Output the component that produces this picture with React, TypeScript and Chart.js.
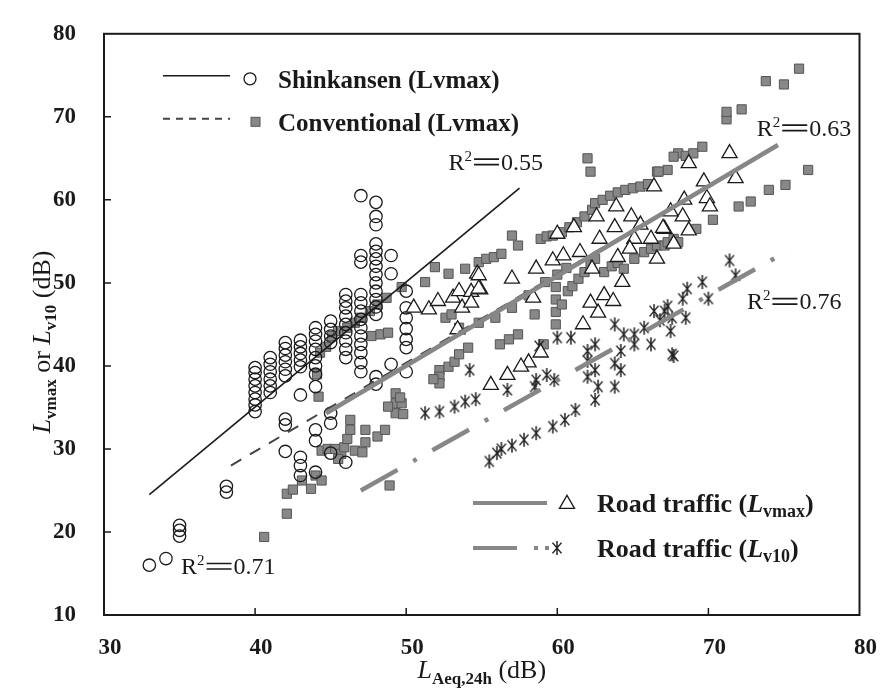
import React, { useEffect, useRef } from 'react';
import { Chart, registerables } from 'chart.js';
Chart.register(...registerables);

const X_MIN = 30, X_MAX = 80, Y_MIN = 10, Y_MAX = 80;
const xTickValues = [30, 40, 50, 60, 70, 80];
const yTickValues = [10, 20, 30, 40, 50, 60, 70, 80];

const shinkansenPoints: [number, number][] = [
  [33, 16], [34.1, 16.8],
  [35, 19.5], [35, 20.2], [35, 20.8],
  [38.1, 24.8], [38.1, 25.5],
  [40, 34.5], [40, 35.3], [40, 36], [40, 36.8], [40, 37.6], [40, 38.4], [40, 39.2], [40, 39.8],
  [41, 36.8], [41, 37.6], [41, 38.4], [41, 39.3], [41, 40.2], [41, 41],
  [42, 38.8], [42, 39.6], [42, 40.5], [42, 41.3], [42, 42.1], [42, 42.8], [42, 33.6], [42, 32.9], [42, 29.7],
  [43, 39.9], [43, 40.7], [43, 41.5], [43, 42.3], [43, 43.1], [43, 36.5], [43, 29], [43, 28], [43, 26.8],
  [44, 37.5], [44, 39], [44, 40], [44, 41], [44, 42], [44, 43], [44, 43.8], [44, 44.6], [44, 32.3], [44, 31], [44, 27.2],
  [45, 42.8], [45, 43.6], [45, 44.4], [45, 45.4], [45, 34.3], [45, 33.1], [45, 29.5],
  [46, 41], [46, 42], [46, 43], [46, 44], [46, 45], [46, 46], [46, 47], [46, 47.8], [46, 48.6], [46, 28.4],
  [47, 60.5], [47, 53.3], [47, 52.5], [47, 48.6], [47, 47.6], [47, 46.6], [47, 45.6], [47, 44.6], [47, 43.6], [47, 42.6], [47, 41.6], [47, 40.4], [47, 39.3],
  [48, 59.7], [48, 58], [48, 57], [48, 54.7], [48, 53.8], [48, 52.9], [48, 52], [48, 51], [48, 50], [48, 49], [48, 48], [48, 47.1], [48, 46.2], [48, 38.7], [48, 37.8],
  [49, 53.3], [49, 51.1], [49, 40.2],
  [50, 49], [50, 47], [50, 45.8], [50, 44.5], [50, 43.2], [50, 42.2], [50, 39.3],
];

const conventionalPoints: [number, number][] = [
  [40.6, 19.4], [42.1, 22.2], [42.1, 24.6], [42.5, 25.1], [43.1, 26.2], [43.7, 25.2], [44, 26.8], [44.4, 26.2],
  [44.2, 36.3], [44.1, 39], [44.3, 41.6], [44.7, 42.3],
  [44.4, 29.8], [44.8, 30], [45.3, 30], [45.7, 29.4], [45.9, 30.2], [46.1, 31.2], [46.3, 32.3], [46.3, 33.5], [45.5, 28.8],
  [46.6, 29.8], [47.1, 29.6], [47.3, 30.8], [47.3, 32.3], [48.1, 31.5], [48.6, 32.3], [48.9, 25.6],
  [45.1, 43.6], [45.5, 44.2], [46.1, 44.6], [46.6, 45.2], [47, 45.8], [47.6, 46.6], [48.1, 47.4], [48.7, 48.2], [49.7, 49.5],
  [47.7, 43.6], [48.3, 43.8], [48.8, 44],
  [49.3, 36.7], [49.3, 35.5], [49.3, 34.3], [49.7, 35.5], [48.8, 35.1], [49.8, 34.2], [49.6, 36.2],
  [51.25, 50.1], [51.9, 51.9], [52.8, 51.1], [53.9, 51.7], [54.8, 52.5], [55.3, 52.9], [55.8, 53.1], [56.3, 53.5],
  [52.6, 45.8], [53, 46.2],
  [52.2, 39.5], [52.2, 38.7], [52.2, 37.9], [52.8, 39.9], [53.2, 40.5], [53.5, 41.4], [54.1, 42.2], [51.8, 38.4],
  [56.2, 42.6], [57.4, 43.8], [56.8, 43.2],
  [53.5, 44.6], [54.8, 45.2], [55.9, 45.8], [57, 47], [58.1, 48.5], [59.2, 50.1], [60, 51], [60.6, 51.8],
  [57, 55.7], [57.4, 54.5],
  [58.9, 55.3], [59.3, 55.6], [59.7, 55.7], [60.3, 56.1], [60.8, 56.7], [61.3, 57.3], [61.8, 58], [62.3, 58.8], [62.5, 59.6],
  [63, 60], [63.5, 60.5], [64, 60.9], [64.5, 61.2], [65, 61.4], [65.5, 61.6], [66, 61.9], [66.6, 63.4], [67.3, 63.6],
  [68, 65.6], [68.5, 65.3], [69, 65.6], [69.6, 66.4], [66.7, 63.4], [67.7, 65.2],
  [62, 65], [62.2, 63.4],
  [59.9, 45], [59.9, 46.5], [59.9, 48], [59.9, 49.5], [60.3, 47.4], [60.7, 49], [61, 49.6], [61.4, 50.5], [61.8, 51.3],
  [62.2, 52.2], [62.5, 52.9], [63.1, 51.3], [63.6, 52], [64, 52.4], [64.4, 51.7], [65.1, 52.9], [65.75, 53.7], [66.2, 54.1],
  [66.6, 54.5], [67.1, 54.5], [67.3, 54.9], [67.7, 55.3], [68, 54.9], [69.2, 56.5], [70.3, 57.6], [72, 59.2], [72.8, 59.8],
  [74, 61.2], [75.1, 61.8], [76.6, 63.6],
  [58.5, 46.2], [59.1, 42.6],
  [73.8, 74.3], [75, 73.9], [76, 75.8], [72.2, 70.9], [71.2, 69.7], [71.2, 70.6],
];

const roadMaxPoints: [number, number][] = [
  [50.5, 47], [51.5, 46.8], [52.1, 47.8], [53.1, 48.2], [53.5, 49], [54.3, 48.9], [54.9, 49.2], [53.7, 47], [54.3, 47.6],
  [54.7, 51.1], [53.4, 44.4], [54.8, 50.9], [54.8, 49.3], [57, 50.5], [58.6, 51.7], [59.7, 52.7], [60.4, 53.3], [60, 55.9],
  [61.1, 56.7], [62.6, 58], [63.9, 59.2], [64.9, 58], [66.4, 61.6], [63.8, 56.7], [62.8, 55.3], [65.1, 55.3], [66.2, 55.3],
  [67.1, 56.5], [64.8, 54.1], [64, 53.1], [62.3, 51.7], [64.3, 50.1], [63.1, 48.5], [63.7, 47.8], [62.2, 47.6], [62.7, 46.4],
  [61.7, 45], [58.4, 48.2], [58.9, 41.6], [58.1, 40.4], [57.6, 39.9], [56.7, 38.9], [55.6, 37.7], [71.4, 65.6], [68.7, 64.4],
  [69.7, 62.2], [71.8, 62.6], [69.9, 60.2], [70.1, 59.2], [68.4, 60], [68.3, 58], [67.5, 58.6], [67, 56.6], [68.7, 56.3],
  [67.7, 54.7], [66.6, 52.9], [65.5, 57], [61.5, 53.7],
];

const roadL10Points: [number, number][] = [
  [51.25, 34.3], [52.2, 34.5], [53.2, 35.1], [53.9, 35.7], [54.6, 36], [54.2, 39.5], [56.7, 37.1], [58.6, 38.3],
  [59.8, 38.3], [59.3, 38.9], [58.5, 37.5], [58.8, 42.4], [60, 43.4], [60.9, 43.4], [62, 41.8], [62.5, 42.6], [63.8, 45],
  [64.4, 43.8], [65.1, 43.8], [65.75, 44.6], [66.4, 46.6], [67.1, 46.6], [67.6, 45.8], [66.2, 42.6], [65.1, 42.6],
  [64.2, 41.8], [62, 40.6], [62.5, 39.5], [63.8, 40.3], [62, 38.7], [64.2, 39.5], [62.7, 37.5], [63.8, 37.5], [62.5, 35.9],
  [61.2, 34.7], [60.5, 33.5], [59.7, 32.7], [58.6, 31.9], [57.8, 31.1], [57, 30.4], [56.3, 30], [55.5, 28.5], [56, 29.5],
  [67.6, 41.4], [71.4, 52.7], [71.8, 50.9], [69.6, 50.1], [68.6, 49.3], [68.3, 48.1], [70, 48.1], [67.3, 47.2],
  [68.5, 45.8], [67.5, 44.2], [67.7, 41.2], [66.8, 45.5],
];

const shinkansenFit: [number, number][] = [[33, 24.5], [57.5, 61.4]];
const conventionalFit: [number, number][] = [[38.4, 28], [74.6, 66.6]];
const roadMaxFit: [number, number][] = [[44.7, 34.3], [74.6, 66.6]];
const roadL10Fit: [number, number][] = [[47, 25], [75.4, 54]];

const r2Values = ['0.55', '0.63', '0.76', '0.71'];
const r2Anchors: [number, number][] = [[52.8, 64.6], [73.2, 68.7], [72.55, 47.8], [35.1, 15.9]];

const SERIF = '"Liberation Serif", "Times New Roman", serif';
const INK = '#1a1a1a';
const GRAY = '#878787';

type Part = { t: string; font: string; dy?: number; eq?: number };

function measureParts(ctx: CanvasRenderingContext2D, parts: Part[]) {
  let w = 0;
  for (const p of parts) {
    if (p.eq) { w += p.eq; continue; }
    ctx.font = p.font;
    w += ctx.measureText(p.t).width;
  }
  return w;
}

function drawParts(ctx: CanvasRenderingContext2D, parts: Part[], x: number, y: number, align: 'left' | 'center') {
  const total = measureParts(ctx, parts);
  let cx = align === 'center' ? x - total / 2 : x;
  ctx.textAlign = 'left';
  ctx.textBaseline = 'alphabetic';
  for (const p of parts) {
    if (p.eq) {
      ctx.save();
      ctx.strokeStyle = ctx.fillStyle as string;
      ctx.lineWidth = 1.7;
      ctx.beginPath();
      ctx.moveTo(cx + 2, y - 10.5); ctx.lineTo(cx + p.eq - 2, y - 10.5);
      ctx.moveTo(cx + 2, y - 5); ctx.lineTo(cx + p.eq - 2, y - 5);
      ctx.stroke();
      ctx.restore();
      cx += p.eq;
      continue;
    }
    ctx.font = p.font;
    ctx.fillText(p.t, cx, y + (p.dy || 0));
    cx += ctx.measureText(p.t).width;
  }
}

function makeAsterisk(size: number, color: string) {
  const c = document.createElement('canvas');
  c.width = size; c.height = size;
  const g = c.getContext('2d')!;
  g.strokeStyle = color; g.lineWidth = 1.5;
  const r = size / 2 - 1, cx = size / 2, cy = size / 2;
  const a = (50 * Math.PI) / 180;
  g.beginPath();
  g.moveTo(cx, cy - r); g.lineTo(cx, cy + r);
  g.moveTo(cx - r * Math.cos(a), cy - r * Math.sin(a)); g.lineTo(cx + r * Math.cos(a), cy + r * Math.sin(a));
  g.moveTo(cx + r * Math.cos(a), cy - r * Math.sin(a)); g.lineTo(cx - r * Math.cos(a), cy + r * Math.sin(a));
  g.stroke();
  return c;
}

const toXY = (arr: [number, number][]) => arr.map(([x, y]) => ({ x, y }));

export default function App() {
  const ref = useRef<HTMLCanvasElement | null>(null);

  useEffect(() => {
    const canvas = ref.current!;
    const asterisk = makeAsterisk(16, '#222');

    const decor = {
      id: 'decor',
      afterDraw(chart: any) {
        const { ctx, chartArea: a, scales } = chart;
        const xs = scales.x, ys = scales.y;
        ctx.save();
        // frame
        ctx.strokeStyle = INK;
        ctx.lineWidth = 2;
        ctx.strokeRect(a.left, a.top, a.right - a.left, a.bottom - a.top);
        ctx.lineWidth = 1.5;
        ctx.beginPath();
        for (const v of xTickValues) {
          if (v === X_MIN || v === X_MAX) continue;
          const px = xs.getPixelForValue(v);
          ctx.moveTo(px, a.bottom); ctx.lineTo(px, a.bottom - 7);
        }
        for (const v of yTickValues) {
          if (v === Y_MIN || v === Y_MAX) continue;
          const py = ys.getPixelForValue(v);
          ctx.moveTo(a.left, py); ctx.lineTo(a.left + 7, py);
        }
        ctx.stroke();

        ctx.fillStyle = INK;
        // R^2 labels
        const big = `24px ${SERIF}`;
        const sup = `15px ${SERIF}`;
        r2Values.forEach((val, i) => {
          const [vx, vy] = r2Anchors[i];
          const px = xs.getPixelForValue(vx), py = ys.getPixelForValue(vy) + 8;
          drawParts(ctx, [
            { t: 'R', font: big },
            { t: '2', font: sup, dy: -9 },
            { t: '', font: big, eq: 29 },
            { t: val, font: big },
          ], px, py, 'left');
        });

        // top-left legend
        const lx0 = a.left + 59, lx1 = a.left + 126;
        const r1 = a.top + 42, r2 = a.top + 85;
        ctx.strokeStyle = INK;
        ctx.lineWidth = 1.6;
        ctx.beginPath(); ctx.moveTo(lx0, r1); ctx.lineTo(lx1, r1); ctx.stroke();
        ctx.setLineDash([7, 6]);
        ctx.strokeStyle = '#444';
        ctx.lineWidth = 2;
        ctx.beginPath(); ctx.moveTo(lx0, r2); ctx.lineTo(lx1, r2); ctx.stroke();
        ctx.setLineDash([]);
        ctx.strokeStyle = INK; ctx.lineWidth = 1.3;
        ctx.beginPath(); ctx.arc(a.left + 146, r1 + 3, 6, 0, Math.PI * 2); ctx.stroke();
        ctx.fillStyle = '#888';
        ctx.fillRect(a.left + 147, r2 - 1.5, 9, 9);
        ctx.strokeStyle = '#555'; ctx.lineWidth = 1;
        ctx.strokeRect(a.left + 147, r2 - 1.5, 9, 9);
        ctx.fillStyle = INK;
        const legTop = `bold 25px ${SERIF}`;
        drawParts(ctx, [{ t: 'Shinkansen (Lvmax)', font: legTop }], a.left + 174, r1 + 12, 'left');
        drawParts(ctx, [{ t: 'Conventional (Lvmax)', font: legTop }], a.left + 174, r2 + 12, 'left');

        // bottom-right legend
        const legFont = `bold 26px ${SERIF}`;
        const bx0 = a.left + 369, bx1 = a.left + 443;
        const b1 = a.bottom - 112, b2 = a.bottom - 67;
        ctx.strokeStyle = GRAY; ctx.lineWidth = 4;
        ctx.beginPath(); ctx.moveTo(bx0, b1); ctx.lineTo(bx1, b1); ctx.stroke();
        ctx.beginPath(); ctx.moveTo(bx0, b2); ctx.lineTo(bx0 + 44, b2); ctx.stroke();
        ctx.fillStyle = GRAY;
        ctx.fillRect(bx0 + 61, b2 - 2, 4, 4);
        ctx.fillRect(bx0 + 72, b2 - 2, 4, 4);
        // triangle
        ctx.strokeStyle = INK; ctx.lineWidth = 1.3;
        const tx = a.left + 463, ty = b1 + 1, tr = 8.7;
        ctx.beginPath();
        ctx.moveTo(tx, ty - tr);
        ctx.lineTo(tx + tr * Math.sin(2 * Math.PI / 3), ty - tr * Math.cos(2 * Math.PI / 3));
        ctx.lineTo(tx + tr * Math.sin(4 * Math.PI / 3), ty - tr * Math.cos(4 * Math.PI / 3));
        ctx.closePath(); ctx.stroke();
        ctx.drawImage(asterisk, a.left + 453 - 8, b2 - 8);
        ctx.fillStyle = INK;
        const subFont = `bold 18px ${SERIF}`;
        const itFont = `bold italic 26px ${SERIF}`;
        drawParts(ctx, [
          { t: 'Road traffic (', font: legFont },
          { t: 'L', font: itFont },
          { t: 'vmax', font: subFont, dy: 5 },
          { t: ')', font: legFont },
        ], a.left + 493, b1 + 9, 'left');
        drawParts(ctx, [
          { t: 'Road traffic (', font: legFont },
          { t: 'L', font: itFont },
          { t: 'v10', font: subFont, dy: 5 },
          { t: ')', font: legFont },
        ], a.left + 493, b2 + 9, 'left');

        // axis titles
        const tFont = `26px ${SERIF}`;
        const tItal = `italic 26px ${SERIF}`;
        const tSub = `bold 17px ${SERIF}`;
        drawParts(ctx, [
          { t: 'L', font: tItal },
          { t: 'Aeq,24h', font: tSub, dy: 6 },
          { t: ' (dB)', font: tFont },
        ], (a.left + a.right) / 2, 678, 'center');
        ctx.translate(42, 342);
        ctx.rotate(-Math.PI / 2);
        drawParts(ctx, [
          { t: 'L', font: tItal },
          { t: 'vmax', font: tSub, dy: 6 },
          { t: ' or ', font: tFont },
          { t: 'L', font: tItal },
          { t: 'v10', font: tSub, dy: 6 },
          { t: ' (dB)', font: tFont },
        ], 0, 8, 'center');
        ctx.restore();
      },
    };

    const lineDs = (label: string, pts: [number, number][], color: string, width: number, dash: number[]) => ({
      label,
      data: toXY(pts),
      showLine: true,
      borderColor: color,
      borderWidth: width,
      borderDash: dash,
      pointRadius: 0,
      pointHoverRadius: 0,
      fill: false,
    });

    const chart = new Chart(canvas, {
      type: 'scatter',
      data: {
        datasets: [
          lineDs('Shinkansen fit', shinkansenFit, INK, 1.6, []),
          lineDs('Road Lvmax fit', roadMaxFit, GRAY, 4.5, []),
          lineDs('Road Lv10 fit', roadL10Fit, GRAY, 4.5, [42, 18, 4, 18]),
          lineDs('Conventional fit', conventionalFit, '#444', 2, [12, 10]),
          {
            label: 'Road traffic (Lvmax)',
            data: toXY(roadMaxPoints),
            pointStyle: 'triangle',
            radius: 8.7,
            borderColor: INK,
            borderWidth: 1.3,
            backgroundColor: '#ffffff',
          },
          {
            label: 'Road traffic (Lv10)',
            data: toXY(roadL10Points),
            pointStyle: asterisk,
            radius: 8,
          },
          {
            label: 'Shinkansen (Lvmax)',
            data: toXY(shinkansenPoints),
            pointStyle: 'circle',
            radius: 6.2,
            borderColor: INK,
            borderWidth: 1.3,
            backgroundColor: 'rgba(0,0,0,0)',
          },
          {
            label: 'Conventional (Lvmax)',
            data: toXY(conventionalPoints),
            pointStyle: 'rect',
            radius: 6.5,
            borderColor: '#555',
            borderWidth: 1,
            backgroundColor: '#888',
          },
        ] as any,
      },
      options: {
        responsive: false,
        animation: false,
        devicePixelRatio: 1,
        layout: { padding: { left: 0, right: 19, top: 25, bottom: 0 } },
        plugins: { legend: { display: false }, tooltip: { enabled: false } },
        events: [],
        scales: {
          x: {
            type: 'linear',
            min: X_MIN, max: X_MAX,
            grid: { display: false },
            border: { display: false },
            afterBuildTicks: (s: any) => { s.ticks = xTickValues.map((v) => ({ value: v })); },
            afterFit: (s: any) => { s.height = 81; },
            ticks: {
              color: INK,
              font: { family: SERIF, size: 23, weight: 'bold' },
              padding: 11,
              labelOffset: 6,
              maxRotation: 0,
            },
          },
          y: {
            type: 'linear',
            min: Y_MIN, max: Y_MAX,
            grid: { display: false },
            border: { display: false },
            afterBuildTicks: (s: any) => { s.ticks = yTickValues.map((v) => ({ value: v })); },
            afterFit: (s: any) => { s.width = 104; },
            ticks: {
              color: INK,
              font: { family: SERIF, size: 23, weight: 'bold' },
              padding: 20,
            },
          },
        },
      } as any,
      plugins: [decor],
    });
    return () => chart.destroy();
  }, []);

  return (
    <div style={{ position: 'fixed', left: 0, top: 0, width: 882, height: 696, background: '#fff' }}>
      <canvas ref={ref} width={882} height={696} style={{ width: 882, height: 696 }} />
    </div>
  );
}
